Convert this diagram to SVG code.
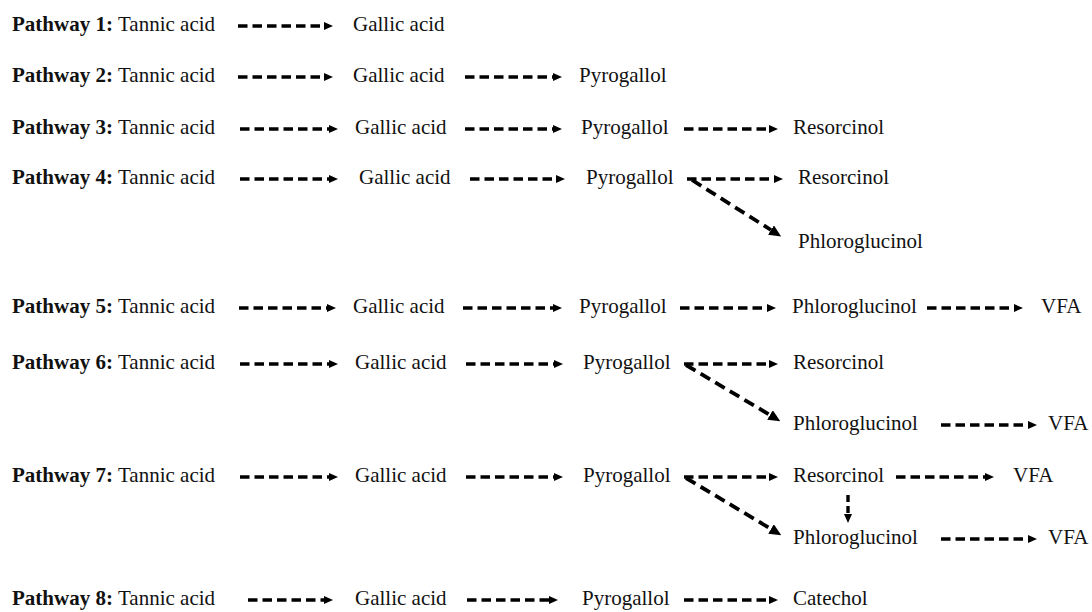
<svg xmlns="http://www.w3.org/2000/svg" width="1092" height="612" viewBox="0 0 1092 612">
<style>
text{font-family:"Liberation Serif","Times New Roman",serif;font-size:21px;fill:#111}
.b{font-weight:bold}
.h{stroke:#000;stroke-width:3.6;stroke-dasharray:9.5 5;fill:none;marker-end:url(#ah)}
.d{stroke:#000;stroke-width:3.8;stroke-dasharray:11 6;fill:none;marker-end:url(#ad)}
.v{stroke:#000;stroke-width:3.4;stroke-dasharray:7 4;fill:none;marker-end:url(#ah)}
</style>
<defs>
<marker id="ah" viewBox="0 0 9 9" refX="0" refY="4.5" markerWidth="9" markerHeight="9" markerUnits="userSpaceOnUse" orient="auto"><path d="M0,0.5 L9,4.5 L0,8.5 z" fill="#000"/></marker>
<marker id="ad" viewBox="0 0 12 11" refX="0" refY="5.5" markerWidth="12" markerHeight="11" markerUnits="userSpaceOnUse" orient="auto"><path d="M0,0 L12,5.5 L0,11 z" fill="#000"/></marker>
</defs>
<rect width="1092" height="612" fill="#fff"/>
<g id="connectors">
<line class="h" x1="238" y1="26" x2="324" y2="26"/>
<line class="h" x1="238" y1="77" x2="324" y2="77"/>
<line class="h" x1="465" y1="77" x2="553" y2="77"/>
<line class="h" x1="240" y1="129" x2="329" y2="129"/>
<line class="h" x1="465" y1="129" x2="553" y2="129"/>
<line class="h" x1="684" y1="129" x2="769" y2="129"/>
<line class="h" x1="240" y1="179" x2="329" y2="179"/>
<line class="h" x1="470" y1="179" x2="556" y2="179"/>
<line class="h" x1="687" y1="179" x2="774" y2="179"/>
<line class="d" x1="692" y1="180" x2="771" y2="230"/>
<line class="h" x1="239" y1="308" x2="327" y2="308"/>
<line class="h" x1="463" y1="308" x2="553" y2="308"/>
<line class="h" x1="680" y1="308" x2="767" y2="308"/>
<line class="h" x1="927" y1="308" x2="1014" y2="308"/>
<line class="h" x1="240" y1="364" x2="329" y2="364"/>
<line class="h" x1="466" y1="364" x2="554" y2="364"/>
<line class="h" x1="684" y1="364" x2="769" y2="364"/>
<line class="d" x1="686" y1="365" x2="770" y2="415"/>
<line class="h" x1="941" y1="425" x2="1028" y2="425"/>
<line class="h" x1="240" y1="477" x2="329" y2="477"/>
<line class="h" x1="466" y1="477" x2="554" y2="477"/>
<line class="h" x1="684" y1="477" x2="769" y2="477"/>
<line class="h" x1="896" y1="477" x2="985" y2="477"/>
<line class="v" x1="848" y1="495" x2="848" y2="514"/>
<line class="d" x1="686" y1="478" x2="771" y2="529"/>
<line class="h" x1="941" y1="539" x2="1028" y2="539"/>
<line class="h" x1="248" y1="600" x2="324" y2="600"/>
<line class="h" x1="467" y1="600" x2="549" y2="600"/>
<line class="h" x1="684" y1="600" x2="769" y2="600"/>
</g>
<g id="p1"><text class="b" x="12" y="31">Pathway 1:</text></g>
<g id="p1-tannic"><text x="118" y="31">Tannic acid</text></g>
<g id="p1-gallic"><text x="353" y="31">Gallic acid</text></g>
<g id="p2"><text class="b" x="12" y="82">Pathway 2:</text></g>
<g id="p2-tannic"><text x="118" y="82">Tannic acid</text></g>
<g id="p2-gallic"><text x="353" y="82">Gallic acid</text></g>
<g id="p2-pyro"><text x="579" y="82">Pyrogallol</text></g>
<g id="p3"><text class="b" x="12" y="134">Pathway 3:</text></g>
<g id="p3-tannic"><text x="118" y="134">Tannic acid</text></g>
<g id="p3-gallic"><text x="355" y="134">Gallic acid</text></g>
<g id="p3-pyro"><text x="581" y="134">Pyrogallol</text></g>
<g id="p3-resor"><text x="793" y="134">Resorcinol</text></g>
<g id="p4"><text class="b" x="12" y="184">Pathway 4:</text></g>
<g id="p4-tannic"><text x="118" y="184">Tannic acid</text></g>
<g id="p4-gallic"><text x="359" y="184">Gallic acid</text></g>
<g id="p4-pyro"><text x="586" y="184">Pyrogallol</text></g>
<g id="p4-resor"><text x="798" y="184">Resorcinol</text></g>
<g id="p4-phloro"><text x="798" y="248">Phloroglucinol</text></g>
<g id="p5"><text class="b" x="12" y="313">Pathway 5:</text></g>
<g id="p5-tannic"><text x="118" y="313">Tannic acid</text></g>
<g id="p5-gallic"><text x="353" y="313">Gallic acid</text></g>
<g id="p5-pyro"><text x="579" y="313">Pyrogallol</text></g>
<g id="p5-phloro"><text x="792" y="313">Phloroglucinol</text></g>
<g id="p5-vfa"><text x="1041" y="313">VFA</text></g>
<g id="p6"><text class="b" x="12" y="369">Pathway 6:</text></g>
<g id="p6-tannic"><text x="118" y="369">Tannic acid</text></g>
<g id="p6-gallic"><text x="355" y="369">Gallic acid</text></g>
<g id="p6-pyro"><text x="583" y="369">Pyrogallol</text></g>
<g id="p6-resor"><text x="793" y="369">Resorcinol</text></g>
<g id="p6-phloro"><text x="793" y="430">Phloroglucinol</text></g>
<g id="p6-vfa"><text x="1048" y="430">VFA</text></g>
<g id="p7"><text class="b" x="12" y="482">Pathway 7:</text></g>
<g id="p7-tannic"><text x="118" y="482">Tannic acid</text></g>
<g id="p7-gallic"><text x="355" y="482">Gallic acid</text></g>
<g id="p7-pyro"><text x="583" y="482">Pyrogallol</text></g>
<g id="p7-resor"><text x="793" y="482">Resorcinol</text></g>
<g id="p7-vfa1"><text x="1013" y="482">VFA</text></g>
<g id="p7-phloro"><text x="793" y="544">Phloroglucinol</text></g>
<g id="p7-vfa2"><text x="1048" y="544">VFA</text></g>
<g id="p8"><text class="b" x="12" y="605">Pathway 8:</text></g>
<g id="p8-tannic"><text x="118" y="605">Tannic acid</text></g>
<g id="p8-gallic"><text x="355" y="605">Gallic acid</text></g>
<g id="p8-pyro"><text x="582" y="605">Pyrogallol</text></g>
<g id="p8-catechol"><text x="793" y="605">Catechol</text></g>
</svg>
